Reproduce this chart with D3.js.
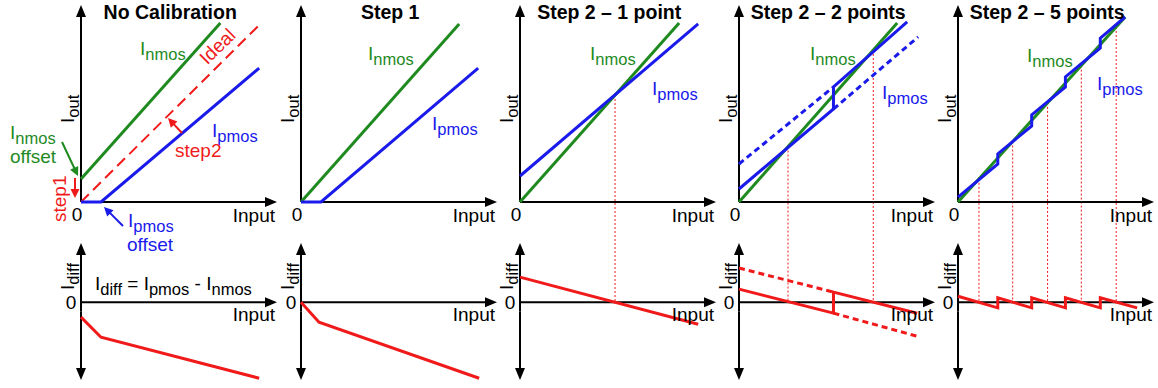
<!DOCTYPE html>
<html>
<head>
<meta charset="utf-8">
<script src="https://cdn.jsdelivr.net/npm/d3@7"></script>
<style>
  body { margin: 0; background: #fff; }
  svg { display: block; font-family: "Liberation Sans", Arial, sans-serif; }
  text { white-space: pre; }
</style>
</head>
<body>
<svg id="chart" width="1158" height="388"></svg>
<script>
// ---- data (input and current in arbitrary units, 0..10 on each axis) ----
const titles = ["No Calibration", "Step 1", "Step 2 \u2013 1 point", "Step 2 \u2013 2 points", "Step 2 \u2013 5 points"];

// NMOS transfer curve per panel: [input, Iout]
const nmosCurves = [
  [[0, 1.17], [7.11, 9.09]],
  [[0, 0], [8.07, 9.04]],
  [[0, 0], [8.12, 9.09]],
  [[0, 0], [8.07, 9.09]],
  [[0, 0], [8.53, 9.39]]
];

// PMOS transfer curve per panel (after the calibration of that panel)
const pmosCurves = [
  [[0, 0], [1.02, 0], [9.09, 6.80]],
  [[0, 0], [1.02, 0], [9.04, 6.80]],
  [[0, 1.32], [9.09, 9.04]],
  [[0, 0.66], [4.82, 4.72], [4.82, 5.84], [8.58, 9.14]],
  [[0, 0.25], [2.03, 1.93], [2.03, 2.44], [3.76, 3.86], [3.76, 4.42],
   [5.48, 5.84], [5.48, 6.35], [7.26, 7.82], [7.26, 8.32], [8.53, 9.39]]
];

// PMOS segments extended past the switching point (dashed)
const pmosDashed = [
  [], [], [],
  [[[0, 1.93], [4.82, 5.84]], [[4.82, 4.72], [9.14, 8.38]]],
  []
];

// ideal transfer curve
const idealCurve = [[0, 0], [9.09, 8.98]];

// Idiff = Ipmos - Inmos per panel: [input, Idiff]
const idiffCurves = [
  [[0, -0.76], [1.02, -1.78], [9.09, -3.86]],
  [[0, 0], [0.92, -1.02], [9.09, -3.86]],
  [[0, 1.27], [9.09, -1.12]],
  [[0, 0.66], [4.82, -0.56], [4.82, 0.51], [9.09, -0.56]],
  [[0, 0.30], [2.03, -0.29], [2.03, 0.22], [3.76, -0.29], [3.76, 0.22],
   [5.48, -0.29], [5.48, 0.22], [7.26, -0.29], [7.26, 0.22], [9.14, -0.29]]
];

const idiffDashed = [
  [], [], [],
  [[[0, 1.73], [4.82, 0.51]], [[4.82, -0.56], [9.09, -1.73]]],
  []
];

// calibration inputs (where Ipmos is matched to Inmos)
const calPoints = [[], [], [4.85], [2.5, 6.85], [1.07, 2.79, 4.57, 6.29, 8.07]];

// ---- drawing ----
const GREEN = "#1f8a1f", BLUE = "#1a1aeb", RED = "#f01a1a", BLACK = "#000";
const svg = d3.select("#chart");
const origins = [81, 301, 520, 739, 958];
const yOut = d3.scaleLinear().domain([0, 10]).range([202, 5]);
const yDiff = d3.scaleLinear().domain([-3.95, 3]).range([380, 243]);

function arrow(g, from, tip, color, width, len, half) {
  const dx = tip[0] - from[0], dy = tip[1] - from[1];
  const L = Math.hypot(dx, dy), ux = dx / L, uy = dy / L;
  const bx = tip[0] - ux * len, by = tip[1] - uy * len;
  g.append("line")
    .attr("x1", from[0]).attr("y1", from[1])
    .attr("x2", bx + ux).attr("y2", by + uy)
    .attr("stroke", color).attr("stroke-width", width);
  g.append("path")
    .attr("d", `M${tip[0]},${tip[1]}L${bx - uy * half},${by + ux * half}L${bx + uy * half},${by - ux * half}Z`)
    .attr("fill", color);
}

// text with a subscripted part: parts = [[string, isSub], ...]
function richText(g, x, y, parts, color, opts = {}) {
  const t = g.append("text")
    .attr("font-size", 19)
    .attr("fill", color)
    .attr("text-anchor", opts.anchor || "start");
  if (opts.rotate != null) t.attr("transform", `translate(${x},${y}) rotate(${opts.rotate})`);
  else t.attr("x", x).attr("y", y);
  let sub = false;
  parts.forEach(([s, isSub]) => {
    const ts = t.append("tspan").text(s);
    if (isSub) ts.attr("font-size", 16.5);
    if (isSub !== sub) ts.attr("dy", isSub ? 5 : -5);
    sub = isSub;
  });
  return t;
}

const interp = (pts, v) => {
  const [a, b] = pts;
  return a[1] + (v - a[0]) * (b[1] - a[1]) / (b[0] - a[0]);
};

const nmosLabelPos = [[140, 55], [368, 60], [590, 60], [810, 60], [1027, 62]];
const pmosLabelPos = [[212, 137], [432, 130], [652, 95], [882, 99], [1097, 90]];

titles.forEach((title, i) => {
  const ox = origins[i];
  const x = d3.scaleLinear().domain([0, 10]).range([ox, ox + 196]);
  const g = svg.append("g");
  const lineOut = d3.line().x(d => x(d[0])).y(d => yOut(d[1]));
  const lineDiff = d3.line().x(d => x(d[0])).y(d => yDiff(d[1]));

  // calibration markers
  calPoints[i].forEach(c => {
    g.append("line")
      .attr("x1", x(c)).attr("x2", x(c))
      .attr("y1", yOut(interp(nmosCurves[i], c))).attr("y2", yDiff(0))
      .attr("stroke", RED).attr("stroke-width", 1)
      .attr("stroke-dasharray", "2,2");
  });

  // axes (upper plot)
  arrow(g, [ox, yOut(0)], [ox, yOut(10)], BLACK, 2, 12, 5);
  arrow(g, [ox, yOut(0)], [x(10), yOut(0)], BLACK, 2, 12, 5);
  // axes (lower plot)
  const mid = (yDiff(3) + yDiff(-3.95)) / 2;
  arrow(g, [ox, mid], [ox, yDiff(3)], BLACK, 2, 12, 5);
  arrow(g, [ox, mid], [ox, yDiff(-3.95)], BLACK, 2, 12, 5);
  arrow(g, [ox, yDiff(0)], [x(10), yDiff(0)], BLACK, 2, 12, 5);

  // ideal curve
  if (i === 0) {
    g.append("path").datum(idealCurve).attr("d", lineOut)
      .attr("fill", "none").attr("stroke", RED).attr("stroke-width", 2)
      .attr("stroke-dasharray", "11,6");
  }

  // transfer curves
  g.append("path").datum(nmosCurves[i]).attr("d", lineOut)
    .attr("fill", "none").attr("stroke", GREEN).attr("stroke-width", 3);
  pmosDashed[i].forEach(seg => {
    g.append("path").datum(seg).attr("d", lineOut)
      .attr("fill", "none").attr("stroke", BLUE).attr("stroke-width", 3)
      .attr("stroke-dasharray", "6,4");
  });
  g.append("path").datum(pmosCurves[i]).attr("d", lineOut)
    .attr("fill", "none").attr("stroke", BLUE).attr("stroke-width", 3)
    .attr("stroke-linejoin", "miter");

  // difference curves
  idiffDashed[i].forEach(seg => {
    g.append("path").datum(seg).attr("d", lineDiff)
      .attr("fill", "none").attr("stroke", RED).attr("stroke-width", 3)
      .attr("stroke-dasharray", "6,4");
  });
  g.append("path").datum(idiffCurves[i]).attr("d", lineDiff)
    .attr("fill", "none").attr("stroke", RED).attr("stroke-width", 3);

  // title
  g.append("text").attr("x", x(4.55)).attr("y", 19)
    .attr("text-anchor", "middle").attr("font-size", 19.5).attr("font-weight", "bold")
    .text(title);

  // axis labels
  g.append("text").attr("x", ox - 4).attr("y", 221).attr("text-anchor", "middle")
    .attr("font-size", 19).text("0");
  g.append("text").attr("x", ox - 10).attr("y", 309).attr("text-anchor", "middle")
    .attr("font-size", 19).text("0");
  g.append("text").attr("x", x(10) - 2).attr("y", 222).attr("text-anchor", "end")
    .attr("font-size", 19).text("Input");
  g.append("text").attr("x", x(10) - 2).attr("y", 321).attr("text-anchor", "end")
    .attr("font-size", 19).text("Input");
  richText(g, ox - 7, 123, [["I", false], ["out", true]], BLACK, { rotate: -90 });
  richText(g, ox - 7, 290, [["I", false], ["diff", true]], BLACK, { rotate: -90 });

  // curve labels
  richText(g, nmosLabelPos[i][0], nmosLabelPos[i][1], [["I", false], ["nmos", true]], GREEN);
  richText(g, pmosLabelPos[i][0], pmosLabelPos[i][1], [["I", false], ["pmos", true]], BLUE);
});

// annotations of the uncalibrated case
const ann = svg.append("g");
ann.append("text").attr("font-size", 19).attr("fill", RED).attr("text-anchor", "middle")
  .attr("transform", "translate(222,51) rotate(-44.7)").text("Ideal");
ann.append("text").attr("x", 175).attr("y", 157).attr("font-size", 19).attr("fill", RED).text("step2");
arrow(ann, [182, 133], [168, 118], RED, 2, 9, 4.5);
ann.append("text").attr("font-size", 19).attr("fill", RED)
  .attr("transform", "translate(66,222) rotate(-90)").text("step1");
arrow(ann, [75, 178], [75, 198], RED, 2, 9, 4.5);
richText(ann, 10, 139, [["I", false], ["nmos", true]], GREEN);
ann.append("text").attr("x", 10).attr("y", 163).attr("font-size", 19).attr("fill", GREEN).text("offset");
arrow(ann, [62, 142], [78, 176], GREEN, 2, 9, 4.5);
richText(ann, 128, 227, [["I", false], ["pmos", true]], BLUE);
ann.append("text").attr("x", 127).attr("y", 251).attr("font-size", 19).attr("fill", BLUE).text("offset");
arrow(ann, [123, 226], [104, 207], BLUE, 2, 9, 4.5);
richText(ann, 95, 290, [["I", false], ["diff", true], [" = I", false], ["pmos", true], [" - I", false], ["nmos", true]], BLACK);
</script>
</body>
</html>
